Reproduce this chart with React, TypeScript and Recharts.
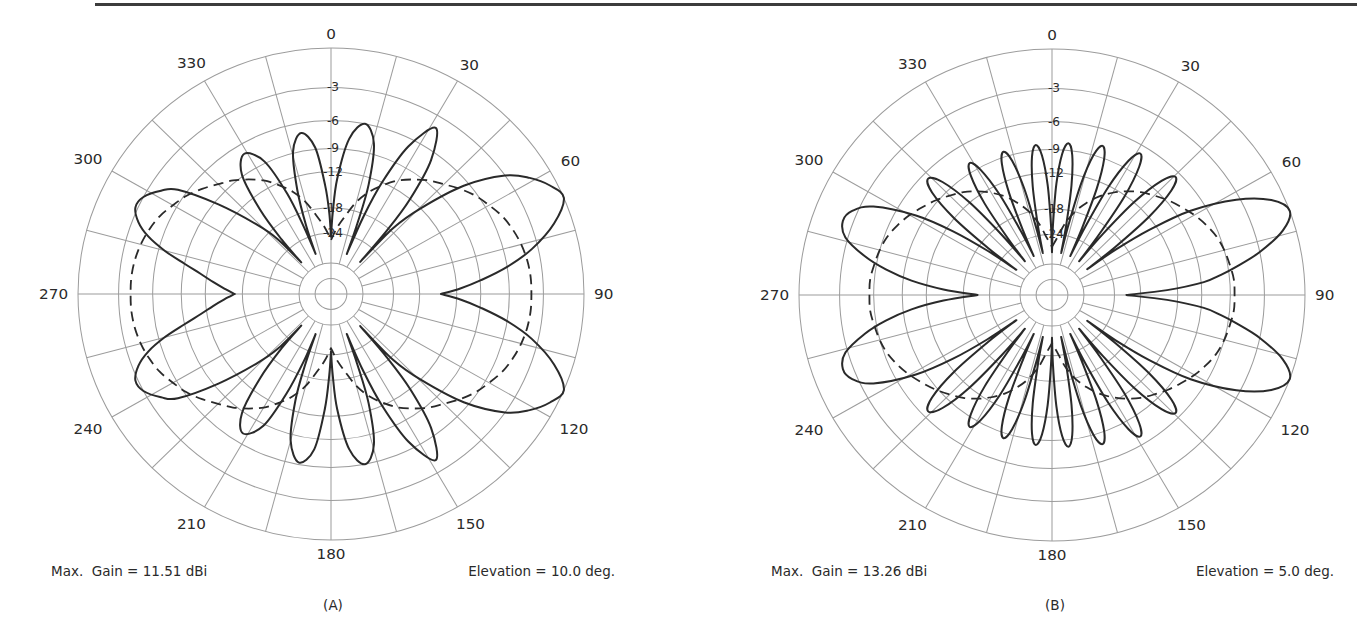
import { PolarAngleAxis, PolarGrid, PolarRadiusAxis, Radar, RadarChart } from "recharts";

// ARRL log-periodic scale: every 2 dB down shrinks the radius by 0.89
const toRadius = (db: number) => Math.pow(0.89, -db / 2);

const ringDb = [0, -3, -6, -9, -12, -18, -24, -35.5, -47.5];
const ringLabels = [-3, -6, -9, -12, -18, -24];
const bearingTicks = [0, 30, 60, 90, 120, 150, 180, 210, 240, 270, 300, 330];
const axisAngles = [0, 90, 180, 270];
const spokeAngles = [15, 30, 45, 60, 75, 105, 120, 135, 150, 165, 195, 210, 225, 240, 255, 285, 300, 315, 330, 345];

// (A) elevation 10 deg: [bearing, dB]
const patternA: [number, number][] = [
  [0, -25], [1.2, -19], [3, -13], [6.5, -7.8], [11, -6], [15.5, -7.8], [18.5, -13], [20, -20.5], [21, -30],
  [22.2, -18.5], [24, -12], [27, -6.8], [31.5, -4], [36, -6.8], [39, -12], [40.6, -18.5], [41.5, -30],
  [42.5, -17.4], [45.5, -12], [50, -6.5], [55, -3], [59, -1.5], [63, -0.5], [67, 0], [72, -1.3],
  [77, -3.5], [81, -6], [84.6, -8.9], [87.5, -11.5], [90, -14.3],
  [92.5, -11.5], [95.4, -8.9], [99, -6], [103, -3.5], [108, -1.3], [113, 0], [117, -0.5], [121, -1.5],
  [125, -3], [130, -6.5], [134.5, -12], [137.5, -17.4], [138.5, -30],
  [139.4, -18.5], [141, -12], [144, -6.8], [148.5, -4], [153, -6.8], [156, -12], [157.8, -18.5], [159, -30],
  [160, -20.5], [161.5, -13], [164.5, -7.8], [169, -6], [173.5, -7.8], [177, -13], [178.8, -19], [180, -25],
  [181.2, -19], [183, -13], [186, -7.8], [190.5, -6.2], [195, -8.3], [198, -13.5], [199.5, -20], [200.5, -30],
  [201.5, -21], [203.5, -14], [206.5, -8.8], [211.5, -7], [216, -8.8], [219.3, -14], [221.5, -21], [222.5, -30],
  [223.4, -20.2], [226.2, -15.3], [230.7, -9.5], [235, -5.2], [238, -4], [242, -3], [245.5, -2.8], [249, -3.5],
  [252, -4.7], [255, -6.6], [258, -9], [261, -11.2], [264, -13], [267, -14.8], [270, -16.6],
  [273, -14.8], [276, -13], [279, -11.2], [282, -9], [285, -6.6], [288, -4.7], [291, -3.5], [294.5, -2.8],
  [298, -3], [302, -4], [305, -5.2], [309.3, -9.5], [313.8, -15.3], [316.6, -20.2], [317.5, -30],
  [318.6, -21], [320.7, -14], [324, -8.8], [329, -7], [334, -8.8], [337, -14], [338.5, -21], [339.5, -30],
  [340.5, -21], [342.5, -14], [345.5, -8.8], [349.8, -7], [354, -8.8], [357, -14], [358.8, -19],
];

// (B) elevation 5 deg: [bearing, dB]
const patternB: [number, number][] = [
  [0, -30], [0.8, -21.4], [2.2, -13.6], [4, -9.5], [6, -8.2], [8, -9.5], [9.8, -13.6], [11.2, -21.4], [12, -30],
  [12.9, -20.9], [14.25, -13.1], [16.1, -9], [18.25, -7.7], [20.4, -9], [22.25, -13.1], [23.6, -20.9], [24.5, -30],
  [25.4, -20], [26.9, -12.2], [29, -8.1], [31.25, -6.8], [33.5, -8.1], [35.6, -12.2], [37.1, -20], [38, -30],
  [39, -19.7], [40.7, -11.9], [43, -7.8], [45.5, -6.5], [48, -7.8], [50.3, -11.9], [52, -19.7], [53, -30],
  [53.8, -20], [55.5, -13], [58, -7.5], [62, -3.3], [66, -0.9], [70, 0], [74, -0.9], [78, -3], [81, -5.2],
  [83, -6.8], [85, -8.7], [87.5, -13.5], [90, -21],
  [92.5, -13.5], [95, -8.7], [97, -6.8], [99, -5.2], [102, -3], [106, -0.9], [110, 0], [114, -0.9], [118, -3.3],
  [122, -7.5], [124.5, -13], [126.2, -20], [127, -30],
  [128, -19.7], [129.7, -11.9], [132, -7.8], [134.5, -6.5], [137, -7.8], [139.3, -11.9], [141, -19.7], [142, -30],
  [142.9, -20], [144.4, -12.2], [146.5, -8.1], [148.75, -6.8], [151, -8.1], [153.1, -12.2], [154.6, -20], [155.5, -30],
  [156.4, -20.9], [157.75, -13.1], [159.6, -9], [161.75, -7.7], [163.9, -9], [165.75, -13.1], [167.1, -20.9], [168, -30],
  [168.8, -21.4], [170.2, -13.6], [172, -9.5], [174, -8.2], [176, -9.5], [177.8, -13.6], [179.2, -21.4], [180, -30],
  [180.8, -21.6], [182.2, -13.8], [184, -9.7], [186, -8.4], [188, -9.7], [189.8, -13.8], [191.2, -21.6], [192, -30],
  [192.9, -21.6], [194.25, -13.8], [196.1, -9.7], [198.25, -8.4], [200.4, -9.7], [202.25, -13.8], [203.6, -21.6], [204.5, -30],
  [205.4, -21.2], [206.9, -13.4], [209, -9.3], [211.25, -8], [213.5, -9.3], [215.6, -13.4], [217.1, -21.2], [218, -30],
  [219.1, -19.8], [220.9, -12], [223.3, -7.9], [226, -6.6], [228.7, -7.9], [231.1, -12], [232.9, -19.8], [234, -30],
  [234.8, -20], [236.5, -13], [239, -8], [243, -4], [246.5, -2.6], [250, -2.2], [254, -2.8], [258, -4.8], [261, -7],
  [264, -10], [267, -14.5], [270, -21],
  [273, -14.5], [276, -10], [279, -7], [282, -4.8], [286, -2.8], [290, -2.2], [293.5, -2.6], [297, -4], [301, -8],
  [303.5, -13], [305.2, -20], [306, -30],
  [307.1, -19.8], [308.9, -12], [311.3, -7.9], [314, -6.6], [316.7, -7.9], [319.1, -12], [320.9, -19.8], [322, -30],
  [322.9, -21.2], [324.4, -13.4], [326.5, -9.3], [328.75, -8], [331, -9.3], [333.1, -13.4], [334.6, -21.2], [335.5, -30],
  [336.4, -21.6], [337.75, -13.8], [339.6, -9.7], [341.75, -8.4], [343.9, -9.7], [345.75, -13.8], [347.1, -21.6], [348, -30],
  [348.8, -21.6], [350.2, -13.8], [352, -9.7], [354, -8.4], [356, -9.7], [357.8, -13.8], [359.2, -21.6],
];

// dashed reference (dipole) patterns, every 5 deg
const refBearings = [
  0, 5, 10, 15, 20, 25, 30, 35, 40, 45, 50, 55, 60, 65, 70, 75, 80, 85,
  90, 95, 100, 105, 110, 115, 120, 125, 130, 135, 140, 145, 150, 155, 160, 165, 170, 175,
  180, 185, 190, 195, 200, 205, 210, 215, 220, 225, 230, 235, 240, 245, 250, 255, 260, 265,
  270, 275, 280, 285, 290, 295, 300, 305, 310, 315, 320, 325, 330, 335, 340, 345, 350, 355,
];
const refGainA = [
  -26, -22.5, -19.5, -16.3, -14, -12.3, -10.8, -9.7, -8.7, -7.9, -7, -6.2, -5.6, -5, -4.6, -4.3, -4.1, -4,
  -4, -4, -4.1, -4.3, -4.6, -5, -5.6, -6.2, -7, -7.9, -8.7, -9.7, -10.8, -12.3, -14, -16.3, -19.5, -22.5,
  -26, -22.5, -19.5, -16.3, -14, -12.3, -10.8, -9.7, -8.7, -7.9, -7, -6.2, -5.6, -5, -4.6, -4.3, -4.1, -4,
  -4, -4, -4.1, -4.3, -4.6, -5, -5.6, -6.2, -7, -7.9, -8.7, -9.7, -10.8, -12.3, -14, -16.3, -19.5, -22.5,
];
const refGainB = [
  -28, -25, -21, -18, -15.8, -14, -12.6, -11.4, -10.4, -9.6, -8.8, -8.1, -7.4, -6.8, -6.3, -6, -5.8, -5.6,
  -5.6, -5.6, -5.8, -6, -6.3, -6.8, -7.4, -8.1, -8.8, -9.6, -10.4, -11.4, -12.6, -14, -15.8, -18, -21, -25,
  -28, -25, -21, -18, -15.8, -14, -12.6, -11.4, -10.4, -9.6, -8.8, -8.1, -7.4, -6.8, -6.3, -6, -5.8, -5.6,
  -5.6, -5.6, -5.8, -6, -6.3, -6.8, -7.4, -8.1, -8.8, -9.6, -10.4, -11.4, -12.6, -14, -15.8, -18, -21, -25,
];

const CHART_W = 680;
const CHART_H = 629;
const OUTER = 249.5;
const FONT = '"DejaVu Sans", "Noto Sans", sans-serif';
const INK = "#2a2a2a";
const GRID = "#9c9c9c";

const ringTicks = ringDb.map(toRadius);

function buildRows(pattern: [number, number][], refGain: number[]) {
  return [
    ...pattern.map(([bearing, db]) => ({ bearing, main: toRadius(db) })),
    ...refBearings.map((bearing, i) => ({ bearing, ref: toRadius(refGain[i]) })),
  ];
}

type Pt = { x: number; y: number; value: number };

// closed Catmull-Rom path, sharp at local minima (nulls)
function smoothClosed(pts: Pt[]) {
  const n = pts.length;
  if (n < 3) return "";
  const at = (i: number) => pts[(i + n) % n];
  const corner = pts.map((p, i) => {
    const a = at(i - 1).value;
    const b = at(i + 1).value;
    return p.value <= a && p.value <= b && (p.value < a || p.value < b);
  });
  let d = `M${pts[0].x.toFixed(2)},${pts[0].y.toFixed(2)}`;
  for (let i = 0; i < n; i++) {
    const p1 = at(i);
    const p2 = at(i + 1);
    const p0 = corner[i] ? p1 : at(i - 1);
    const p3 = corner[(i + 1) % n] ? p2 : at(i + 2);
    const c1x = p1.x + (p2.x - p0.x) / 6;
    const c1y = p1.y + (p2.y - p0.y) / 6;
    const c2x = p2.x - (p3.x - p1.x) / 6;
    const c2y = p2.y - (p3.y - p1.y) / 6;
    d += ` C${c1x.toFixed(2)},${c1y.toFixed(2)} ${c2x.toFixed(2)},${c2y.toFixed(2)} ${p2.x.toFixed(2)},${p2.y.toFixed(2)}`;
  }
  return d + " Z";
}

const patternShape = (width: number, dash?: string) => (props: any) => {
  const pts: Pt[] = (props.points ?? []).filter(
    (p: any) => p.value != null && Number.isFinite(p.x) && Number.isFinite(p.y)
  );
  return (
    <path
      d={smoothClosed(pts)}
      fill="none"
      stroke={INK}
      strokeWidth={width}
      strokeDasharray={dash}
      strokeLinejoin="round"
    />
  );
};

function AngleTick(props: any) {
  const { x, y, payload } = props;
  const a = (payload.coordinate * Math.PI) / 180;
  const ux = Math.cos(a);
  const uy = -Math.sin(a);
  const label = String(payload.value);
  const push = 2 + Math.abs(ux) * label.length * 4.7 + Math.abs(uy) * 4;
  // the printed labels sit a little wider than the 30-degree rays
  const spread = ux * Math.abs(uy) * 6;
  return (
    <text
      x={x + ux * push + spread}
      y={y + uy * push}
      textAnchor="middle"
      dominantBaseline="central"
      fontSize={15}
      fontFamily={FONT}
      fill={INK}
    >
      {label}
    </text>
  );
}

function RadiusTick(props: any) {
  const { x, y, payload } = props;
  const db = ringDb.find((d) => Math.abs(toRadius(d) - payload.value) < 1e-6);
  if (db === undefined || !ringLabels.includes(db)) return <g />;
  return (
    <text
      x={x + 2}
      y={y}
      textAnchor="middle"
      dominantBaseline="central"
      fontSize={12}
      fontFamily={FONT}
      fill={INK}
    >
      {db}
    </text>
  );
}

function PolarPlot(props: {
  left: number;
  cx: number;
  cy: number;
  pattern: [number, number][];
  refGain: number[];
}) {
  const { left, cx, cy, pattern, refGain } = props;
  const rows = buildRows(pattern, refGain);
  const layer = { position: "absolute" as const, left: 0, top: 0 };
  return (
    <div
      style={{
        position: "absolute",
        left,
        top: 0,
        width: CHART_W,
        height: CHART_H,
        transform: "scale(1.014, 0.986)",
        transformOrigin: `${cx}px ${cy}px`,
      }}
    >
      <div style={layer}>
        <RadarChart
          width={CHART_W}
          height={CHART_H}
          data={rows}
          cx={cx}
          cy={cy}
          outerRadius={OUTER}
          innerRadius={OUTER * toRadius(-35.5)}
          startAngle={90}
          endAngle={-270}
          margin={{ top: 0, right: 0, bottom: 0, left: 0 }}
        >
          <PolarGrid gridType="circle" polarAngles={spokeAngles} polarRadius={[]} stroke={GRID} />
        </RadarChart>
      </div>
      <div style={layer}>
        <RadarChart
          width={CHART_W}
          height={CHART_H}
          data={rows}
          cx={cx}
          cy={cy}
          outerRadius={OUTER}
          startAngle={90}
          endAngle={-270}
          margin={{ top: 0, right: 0, bottom: 0, left: 0 }}
        >
          <PolarGrid gridType="circle" polarAngles={axisAngles} stroke={GRID} />
          <PolarAngleAxis
            dataKey="bearing"
            type="number"
            domain={[0, 360]}
            ticks={bearingTicks}
            tick={AngleTick}
            tickLine={false}
            axisLine={false}
          />
          <PolarRadiusAxis
            type="number"
            domain={[0, 1]}
            angle={90}
            ticks={ringTicks}
            tick={RadiusTick}
            axisLine={false}
            tickLine={false}
          />
          <Radar dataKey="ref" shape={patternShape(1.8, "10 6")} dot={false} isAnimationActive={false} />
          <Radar dataKey="main" shape={patternShape(2)} dot={false} isAnimationActive={false} />
        </RadarChart>
      </div>
    </div>
  );
}

const note = {
  position: "absolute" as const,
  fontFamily: FONT,
  fontSize: 13.5,
  color: INK,
  whiteSpace: "pre" as const,
  lineHeight: "18px",
};

export default function App() {
  return (
    <div
      style={{
        position: "absolute",
        left: 0,
        top: 0,
        width: 1357,
        height: 629,
        background: "#ffffff",
        overflow: "hidden",
      }}
    >
      <div style={{ position: "absolute", left: 95, top: 3, width: 1262, height: 3, background: "#3c3c3c" }} />
      <PolarPlot left={0} cx={331} cy={294} pattern={patternA} refGain={refGainA} />
      <PolarPlot left={680} cx={372} cy={295} pattern={patternB} refGain={refGainB} />
      <div style={{ ...note, left: 51, top: 562 }}>Max.  Gain = 11.51 dBi</div>
      <div style={{ ...note, right: 1357 - 615, top: 562 }}>Elevation = 10.0 deg.</div>
      <div style={{ ...note, left: 333, top: 596, transform: "translateX(-50%)" }}>(A)</div>
      <div style={{ ...note, left: 771, top: 562 }}>Max.  Gain = 13.26 dBi</div>
      <div style={{ ...note, right: 1357 - 1334, top: 562 }}>Elevation = 5.0 deg.</div>
      <div style={{ ...note, left: 1055, top: 596, transform: "translateX(-50%)" }}>(B)</div>
    </div>
  );
}
